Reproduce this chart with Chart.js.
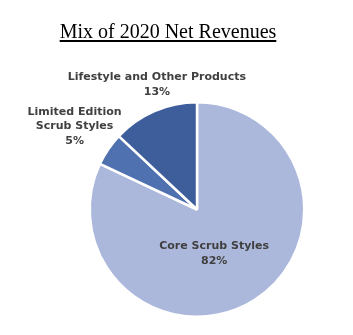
<!DOCTYPE html>
<html lang="en">
<head>
  <meta charset="UTF-8" />
  <title>Mix of 2020 Net Revenues</title>
  <script src="https://cdn.jsdelivr.net/npm/chart.js"></script>
  <style>
    html, body {
      margin: 0;
      padding: 0;
      background: #fff;
    }

    #wrap {
      position: relative;
      width: 353px;
      height: 335px;
    }

    #title {
      position: absolute;
      top: 20px;
      left: 50px;
      width: 236px;
      text-align: center;
      font-family: "Liberation Serif", "Times New Roman", serif;
      font-size: 20px;
      color: #000;
      text-decoration: underline;
      text-underline-offset: 2px;
      white-space: nowrap;
    }
  </style>
</head>
<body>

  <div id="wrap">
    <canvas id="pie" width="353" height="335"></canvas>
    <div id="title">Mix of 2020 Net Revenues</div>
  </div>

  <script>
    // Daten
    const categories = ['Core Scrub Styles', 'Limited Edition Scrub Styles', 'Lifestyle and Other Products'];
    const labelLines = [['Core Scrub Styles'], ['Limited Edition', 'Scrub Styles'], ['Lifestyle and Other Products']];
    const shares = [82, 5, 13];
    const colors = ['#abb8db', '#4f71b0', '#3e5d9b'];

    // labels placed along the middle angle of each slice
    const sliceLabels = {
      id: 'sliceLabels',
      afterDatasetsDraw(chart, args, opts) {
        const ctx = chart.ctx;
        const meta = chart.getDatasetMeta(0);
        ctx.save();
        ctx.font = 'bold 11px "DejaVu Sans", sans-serif';
        ctx.fillStyle = '#404040';
        ctx.textAlign = 'center';
        ctx.textBaseline = 'middle';
        meta.data.forEach((arc, i) => {
          const p = arc.getProps(['x', 'y', 'startAngle', 'endAngle', 'outerRadius']);
          const mid = (p.startAngle + p.endAngle) / 2;
          const r = p.outerRadius * opts.factor[i];
          const cx = p.x + Math.cos(mid) * r + opts.dx[i];
          const cy = p.y + Math.sin(mid) * r;
          const lines = labelLines[i].concat([shares[i] + '%']);
          const lh = 14.5;
          lines.forEach((t, k) => {
            ctx.fillText(t, cx, cy + (k - (lines.length - 1) / 2) * lh);
          });
        });
        ctx.restore();
      }
    };

    new Chart(document.getElementById('pie'), {
      type: 'pie',
      data: {
        labels: categories,
        datasets: [{
          data: shares,
          backgroundColor: colors,
          borderColor: '#ffffff',
          borderWidth: 2.5
        }]
      },
      options: {
        responsive: false,
        animation: false,
        layout: {
          padding: { top: 101, bottom: 17, left: 41, right: 0 }
        },
        plugins: {
          legend: { display: false },
          tooltip: { enabled: false },
          sliceLabels: {
            factor: [0.49, 1.38, 1.27],
            dx: [-11, 0, 14]
          }
        }
      },
      plugins: [sliceLabels]
    });
  </script>
</body>
</html>
